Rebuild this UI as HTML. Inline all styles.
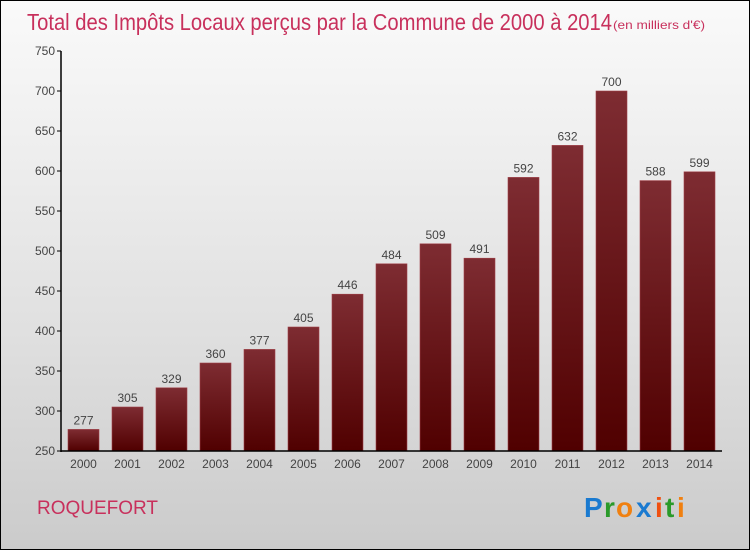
<!DOCTYPE html>
<html><head><meta charset="utf-8"><style>
body{margin:0}
#c{position:relative;width:748px;height:548px;border:1px solid #000;background:linear-gradient(#fafafa,#e0e0e0 60%,#cbcbcb);font-family:"Liberation Sans",sans-serif;overflow:hidden}
</style></head><body>
<div id="c">
<svg width="748" height="548" style="position:absolute;left:0;top:0">
<defs><linearGradient id="bg" x1="0" y1="0" x2="0" y2="1"><stop offset="0" stop-color="#7e2c32"/><stop offset="1" stop-color="#500000"/></linearGradient></defs>
<text x="26" y="29" font-size="23" fill="#c8305c" textLength="585" lengthAdjust="spacingAndGlyphs">Total des Impôts Locaux perçus par la Commune de 2000 à 2014</text>
<text x="612" y="28" font-size="12" fill="#c8305c" textLength="92" lengthAdjust="spacingAndGlyphs">(en milliers d'€)</text>
<g id="plot"></g>
<text x="36" y="513" font-size="19" fill="#c8305c">ROQUEFORT</text>
<g font-size="28" font-weight="bold" font-family="Liberation Sans, sans-serif">
<text x="583" y="516" fill="#1a7ad0">P</text><text x="603" y="516" fill="#2a9a2a">r</text><text x="615" y="516" fill="#f08010">o</text><text x="635" y="516" fill="#1a7ad0">x</text><text x="654" y="516" fill="#f05010">i</text><text x="664" y="516" fill="#2a9a2a">t</text><text x="676" y="516" fill="#f08010">i</text>
</g>
</svg>
</div>
<script>
const years=["2000","2001","2002","2003","2004","2005","2006","2007","2008","2009","2010","2011","2012","2013","2014"];
const values=[277,305,329,360,377,405,446,484,509,491,592,632,700,588,599];
const ticks=[250,300,350,400,450,500,550,600,650,700,750];
const ns="http://www.w3.org/2000/svg";
const g=document.getElementById('plot');
const y=v=>450-(v-250)*0.8;
const x=i=>82.5+44*i;
function mk(t,a,txt){const e=document.createElementNS(ns,t);for(const k in a)e.setAttribute(k,a[k]);if(txt!==undefined)e.textContent=txt;g.appendChild(e);return e;}
ticks.forEach(t=>{
 const l=mk('line',{x1:56,x2:60,y1:y(t),y2:y(t),stroke:'#000'});
 
 
 const tx=mk('text',{x:54,y:y(t)+4,'font-size':12,fill:'#444','text-anchor':'end'},t);
 
 
});
values.forEach((v,i)=>{
 const r=mk('rect',{x:x(i)-15.5,y:y(v),width:31,height:450-y(v),fill:'url(#bg)',stroke:'#a04048','stroke-width':0.6});
 
 
 const vl=mk('text',{x:x(i),y:y(v)-5,'font-size':12,fill:'#444','text-anchor':'middle'},v);
 
 
 const xl=mk('text',{x:x(i),y:467,'font-size':12,fill:'#444','text-anchor':'middle'},years[i]);
 
 
});
const ya=mk('line',{x1:60,x2:60,y1:50,y2:451,stroke:'#000','stroke-width':1.5});


const xa=mk('line',{x1:60,x2:721,y1:450,y2:450,stroke:'#000','stroke-width':1.5});


</script>
</body></html>
